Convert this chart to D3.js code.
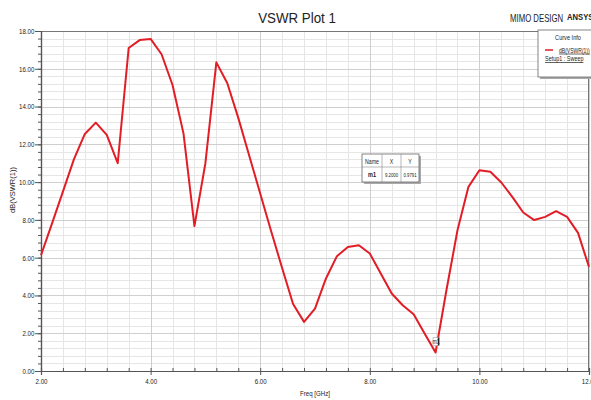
<!DOCTYPE html>
<html><head><meta charset="utf-8">
<script src="https://cdn.jsdelivr.net/npm/d3@7"></script>
<style>
body{margin:0;background:#fff;}
svg{display:block;font-family:"Liberation Sans",Arial,sans-serif;}
</style></head><body>
<svg id="c" width="591" height="400"></svg>
<script>
const freq = [2.0,2.2,2.4,2.6,2.8,3.0,3.2,3.4,3.6,3.8,4.0,4.2,4.4,4.6,4.8,5.0,5.2,5.4,5.6,5.8,6.0,6.2,6.4,6.6,6.8,7.0,7.2,7.4,7.6,7.8,8.0,8.2,8.4,8.6,8.8,9.0,9.2,9.4,9.6,9.8,10.0,10.2,10.4,10.6,10.8,11.0,11.2,11.4,11.6,11.8,12.0];
const vswrDb = [6.13,7.8,9.5,11.2,12.55,13.15,12.5,11.0,17.1,17.52,17.58,16.77,15.14,12.58,7.67,11.0,16.34,15.23,13.4,11.4,9.4,7.4,5.45,3.55,2.6,3.3,4.9,6.08,6.57,6.66,6.22,5.16,4.1,3.48,3.0,1.98,0.9791,4.3,7.45,9.75,10.63,10.55,9.98,9.22,8.39,7.99,8.16,8.46,8.16,7.31,5.51];
const xTicks = [2,4,6,8,10,12];
const yTicks = [0,2,4,6,8,10,12,14,16,18];
const markerName = ["m1"];
const markerX = [9.2];
const markerY = [0.9791];

const svg = d3.select("#c");
const L=41, R=589, T=31, B=371;
const x = d3.scaleLinear().domain([2,12]).range([L,R]);
const y = d3.scaleLinear().domain([0,18]).range([B,T]);
const minorX = d3.range(2,12.001,0.4);
const minorY = d3.range(0,18.001,0.4);

// narrow text helper (condensed look)
function nt(px,py,str,size,o={}){
  const sx=o.sx||0.8;
  const gg=svg.append("g").attr("transform",`translate(${px},${py}) ${o.rot?`rotate(${o.rot})`:""} scale(${sx},1)`);
  const t=gg.append("text").attr("x",0).attr("y",0).attr("font-size",size).attr("fill",o.fill||"#222")
    .attr("text-anchor",o.anchor||"start").attr("font-weight",o.bold?"bold":"normal").text(str);
  if(o.u) t.attr("text-decoration","underline");
  return t;
}

// grid
const g = svg.append("g");
g.selectAll(".mx").data(minorX).join("line").attr("x1",d=>Math.round(x(d))+0.5).attr("x2",d=>Math.round(x(d))+0.5).attr("y1",T).attr("y2",B).attr("stroke","#e6e6e6").attr("stroke-width",1);
g.selectAll(".my").data(minorY).join("line").attr("y1",d=>Math.round(y(d))+0.5).attr("y2",d=>Math.round(y(d))+0.5).attr("x1",L).attr("x2",R).attr("stroke","#e6e6e6").attr("stroke-width",1);
g.selectAll(".Mx").data(xTicks).join("line").attr("x1",d=>Math.round(x(d))+0.5).attr("x2",d=>Math.round(x(d))+0.5).attr("y1",T).attr("y2",B).attr("stroke","#cfcfcf").attr("stroke-width",1);
g.selectAll(".My").data(yTicks).join("line").attr("y1",d=>Math.round(y(d))+0.5).attr("y2",d=>Math.round(y(d))+0.5).attr("x1",L).attr("x2",R).attr("stroke","#cfcfcf").attr("stroke-width",1);

// frame
svg.append("line").attr("x1",L).attr("x2",R).attr("y1",T+0.5).attr("y2",T+0.5).attr("stroke","#777");
svg.append("line").attr("x1",R-0.5).attr("x2",R-0.5).attr("y1",T).attr("y2",B).attr("stroke","#777");

// axes
const xAxisMinor = d3.axisBottom(x).tickValues(minorX).tickSize(-3).tickFormat("");
const xAxis = d3.axisBottom(x).tickValues(xTicks).tickSize(4).tickPadding(4).tickFormat(d3.format(".2f"));
const yAxisMinor = d3.axisLeft(y).tickValues(minorY).tickSize(3).tickFormat("");
const yAxis = d3.axisLeft(y).tickValues(yTicks).tickSize(6).tickPadding(2).tickFormat(d3.format(".2f"));
function style(sel){sel.selectAll("path").attr("stroke","#555").attr("stroke-width",1.2);sel.selectAll("line").attr("stroke","#555");
  sel.selectAll("text").attr("fill","#222").attr("font-size",7.5).attr("font-family","'Liberation Sans',Arial,sans-serif").attr("transform","scale(0.82,1)");}
svg.append("g").attr("transform",`translate(0,${B})`).call(xAxisMinor).call(style);
svg.append("g").attr("transform",`translate(0,${B})`).call(xAxis).call(style);
svg.append("g").attr("transform",`translate(${L},0)`).call(yAxisMinor).call(style);
svg.append("g").attr("transform",`translate(${L},0)`).call(yAxis).call(style);

// curve
const line = d3.line().x((d,i)=>x(freq[i])).y(d=>y(d));
svg.append("path").datum(vswrDb).attr("d",line).attr("fill","none").attr("stroke","#e21d26").attr("stroke-width",2).attr("stroke-linejoin","round");

// marker
markerX.forEach((mx,i)=>{
  const px=x(mx), py=y(markerY[i]);
  svg.append("rect").attr("x",px-2.5).attr("y",py-15).attr("width",6).attr("height",8).attr("fill","#fff").attr("stroke","#aaa").attr("stroke-width",0.6);
  nt(px+0.5,py-9,markerName[i],7,{anchor:"middle",sx:0.75});
  svg.append("line").attr("x1",px+3).attr("x2",px+3).attr("y1",py-15).attr("y2",py-7).attr("stroke","#222").attr("stroke-width",1.5);
});

// marker table
const tx=362, ty=154, tw=57, th=28, rowH=13;
svg.append("rect").attr("x",tx+2).attr("y",ty+2).attr("width",tw).attr("height",th).attr("fill","#aaa");
svg.append("rect").attr("x",tx).attr("y",ty).attr("width",tw).attr("height",th).attr("fill","#fff").attr("stroke","#666").attr("stroke-width",0.8);
svg.append("line").attr("x1",tx).attr("x2",tx+tw).attr("y1",ty+rowH).attr("y2",ty+rowH).attr("stroke","#888").attr("stroke-width",0.6);
svg.append("line").attr("x1",tx+20).attr("x2",tx+20).attr("y1",ty).attr("y2",ty+th).attr("stroke","#888").attr("stroke-width",0.6);
svg.append("line").attr("x1",tx+39).attr("x2",tx+39).attr("y1",ty).attr("y2",ty+th).attr("stroke","#888").attr("stroke-width",0.6);
const hdr=["Name","X","Y"], row=[markerName[0], markerX[0].toFixed(4), markerY[0].toFixed(4)];
const cx=[tx+10,tx+29.5,tx+48];
hdr.forEach((t,i)=>nt(cx[i],ty+9.5,t,6.5,{anchor:"middle",sx:0.8}));
row.forEach((t,i)=>nt(cx[i],ty+23,t,i==0?6.5:6,{anchor:"middle",sx:i==0?0.85:0.72,bold:i==0}));

// titles
nt(297,23,"VSWR Plot 1",15.5,{anchor:"middle",sx:0.86});
nt(510,22,"MIMO DESIGN",10,{sx:0.78});
nt(567,20,"ANSYS",8.5,{sx:0.9,bold:true});
nt(315,396,"Freq [GHz]",7.5,{anchor:"middle",sx:0.82});
nt(15,190,"dB(VSWR(1))",7.5,{anchor:"middle",rot:-90,sx:1});

// legend
const lx=538, ly=30;
svg.append("rect").attr("x",lx+2).attr("y",ly+2).attr("width",62).attr("height",47).attr("fill","#aaa");
svg.append("rect").attr("x",lx).attr("y",ly).attr("width",62).attr("height",47).attr("fill","#fff").attr("stroke","#666").attr("stroke-width",0.8);
nt(568,ly+10,"Curve Info",7,{anchor:"middle",sx:0.8});
svg.append("line").attr("x1",lx+7).attr("x2",lx+15).attr("y1",ly+20).attr("y2",ly+20).attr("stroke","#e21d26").attr("stroke-width",1.5);
nt(lx+21,ly+22.5,"dB(VSWR(1))",7,{sx:0.72,u:true});
nt(lx+7,ly+31,"Setup1 : Sweep",7,{sx:0.78,u:true});
</script>
</body></html>
